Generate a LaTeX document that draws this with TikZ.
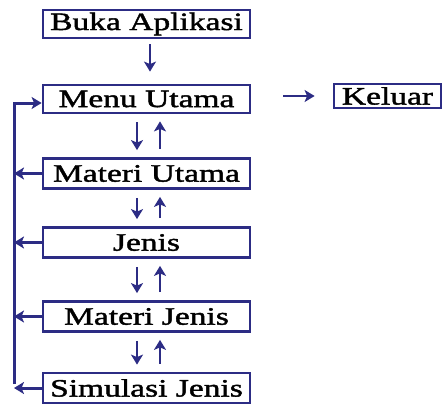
\documentclass[tikz,border=0pt]{standalone}
\usepackage{fontspec}
\newfontfamily\boxfont[FakeStretch=1.34,FakeBold=1.6]{Liberation Serif}
\usetikzlibrary{arrows.meta,calc}
\definecolor{navy}{RGB}{44,44,132}
\begin{document}
\begin{tikzpicture}[x=1pt,y=-1pt,
  box/.style={draw=navy,line width=2.8pt,rectangle,inner sep=0pt,
    minimum width=207pt,minimum height=28pt,font=\boxfont\fontsize{25}{26}\selectfont,text=black},
  conn/.style={draw=navy,line width=2.4pt,-{Stealth[length=10pt,width=12pt,inset=2.5pt]}},
  bus/.style={conn,line width=3pt}]
\useasboundingbox (0,0) rectangle (442,404);
\node[box] (buka) at (146.5,24) {Buka Aplikasi};
\node[box] (menu) at (146.5,99) {Menu Utama};
\node[box,minimum height=30pt] (mu) at (146.5,173.5) {Materi Utama};
\node[box,minimum height=30pt] (jenis) at (146.5,242.5) {Jenis};
\node[box,minimum height=30pt] (mj) at (146.5,316.5) {Materi Jenis};
\node[box,minimum height=30pt] (sim) at (146.5,388) {Simulasi Jenis};
\node[box,minimum width=107pt,minimum height=24pt] (keluar) at (387.5,96) {Keluar};
\coordinate (bustop) at (14,103);
\coordinate (busbot) at (14,384);
% Buka -> Menu
\draw[conn,shorten <=5pt,shorten >=12pt] ($(buka.south)+(3.5,0)$) -- ($(menu.north)+(3.5,0)$);
% Menu -> Keluar
\draw[conn,shorten <=32pt,shorten >=18pt] (menu.east |- keluar.west) -- (keluar.west);
% down/up pairs
\foreach \a/\b in {menu/mu,mu/jenis,jenis/mj,mj/sim}{
  \draw[conn,shorten <=8pt,shorten >=7pt] ($(\a.south)+(-9.5,0)$) -- ($(\b.north)+(-9.5,0)$);
  \draw[conn,shorten <=8pt,shorten >=7pt] ($(\b.north)+(13.5,0)$) -- ($(\a.south)+(13.5,0)$);
}
% left bus
\draw[bus] (busbot) -- (bustop) -- (bustop -| menu.west);
\foreach \n in {mu,jenis,mj,sim}{
  \draw[bus] (\n.west) -- (\n.west -| bustop);
}
\end{tikzpicture}
\end{document}
